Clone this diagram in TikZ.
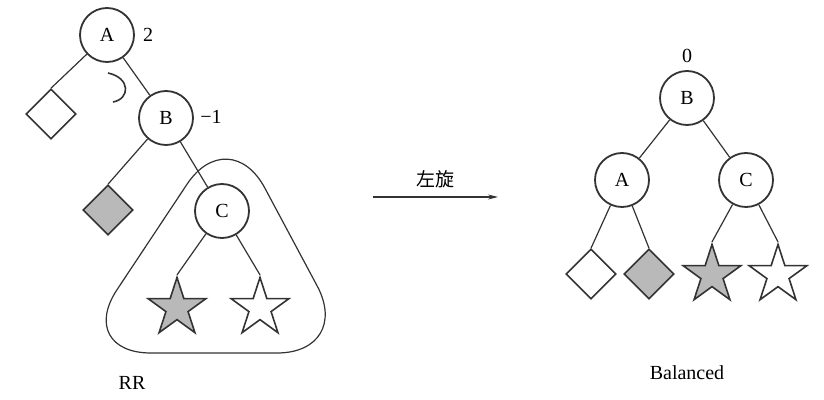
\documentclass[tikz,border=0pt]{standalone}
\usepackage{fontspec}
\setmainfont{Liberation Serif}
\newfontfamily\cjk{Noto Sans CJK SC}
\usetikzlibrary{shapes.geometric, arrows.meta}

\begin{document}
\begin{tikzpicture}[x=0.5pt, y=-0.5pt,
    vert/.style={circle, draw=black!80, line width=0.9pt, minimum size=27pt, inner sep=0pt},
    leaf/.style={diamond, draw=black!80, line width=0.8pt, minimum size=25pt, inner sep=0pt},
    subtree/.style={star, star points=5, star point ratio=2.618, draw=black!80, line width=0.8pt, minimum size=30.5pt, inner sep=0pt},
    shaded/.style={fill=gray!55},
    edge/.style={draw=black!80, line width=0.6pt}]
    \useasboundingbox (0,0) rectangle (824,400);

    % Before: RR case
    \node[vert] (A) at (107,35) {A};
    \node[vert] (B) at (166,118) {B};
    \node[vert] (C) at (222,211) {C};
    \node[leaf] (lA) at (51,114) {};
    \node[leaf, shaded] (lB) at (108,210) {};
    \node[subtree, shaded] (sL) at (177,308) {};
    \node[subtree] (sR) at (260,308) {};
    \node (bfA) at (148,35) {2};
    \node (bfB) at (211,117) {−1};

    \draw[edge] (A) -- (lA.north);
    \draw[edge] (A) -- (B);
    \draw[edge] (B) -- (lB.north);
    \draw[edge] (B) -- (C);
    \draw[edge] (C) -- (sL.north);
    \draw[edge] (C) -- (sR.north);

    % rotation mark and subtree outline
    \draw[edge, line width=0.8pt] (108,73) .. controls (131,78) and (130,99) .. (113,102);
    \draw[edge, rounded corners=38pt] (229,121) -- (353,353) -- (75,353) -- cycle;
    \node (rr) at (132,383) {RR};

    % Rotation arrow
    \coordinate (arrS) at (373,197);
    \coordinate (arrE) at (498,197);
    \draw[edge, -{Stealth[length=5pt, width=2.5pt]}] (arrS) -- (arrE)
        node[midway, above=1pt, font=\cjk\fontsize{9.5}{11}\selectfont] (lbl) {左旋};

    % After: Balanced
    \node[vert] (B2) at (687,98) {B};
    \node[vert] (A2) at (622,180) {A};
    \node[vert] (C2) at (746,180) {C};
    \node[leaf] (l1) at (591,274) {};
    \node[leaf, shaded] (l2) at (649,274) {};
    \node[subtree, shaded] (s3) at (712,275) {};
    \node[subtree] (s4) at (778,275) {};
    \node (bf0) at (687,56) {0};
    \node (bal) at (687,373) {Balanced};

    \draw[edge] (B2) -- (A2);
    \draw[edge] (B2) -- (C2);
    \draw[edge] (A2) -- (l1.north);
    \draw[edge] (A2) -- (l2.north);
    \draw[edge] (C2) -- (s3.north);
    \draw[edge] (C2) -- (s4.north);

\end{tikzpicture}
\end{document}
